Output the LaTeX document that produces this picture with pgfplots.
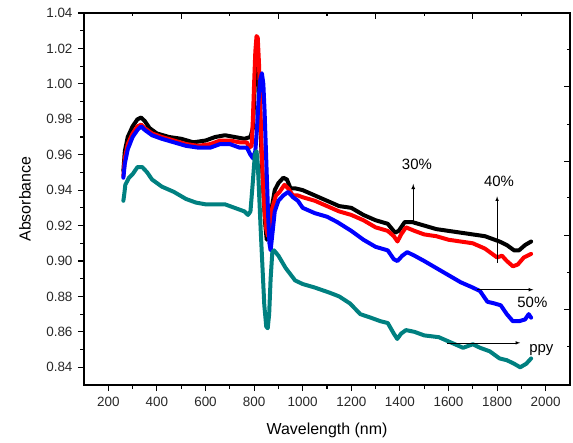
\documentclass[border=0pt]{standalone}
\usepackage{fontspec}
\setmainfont{Liberation Sans}
\usepackage{pgfplots}
\pgfplotsset{compat=1.18}
\definecolor{tealc}{RGB}{0,128,128}
\definecolor{ticklab}{RGB}{40,40,40}
\begin{document}
\begin{tikzpicture}
\useasboundingbox (-84bp,-58bp) rectangle (489bp,385bp);
\pgfplotsset{myax/.style={width=486bp,height=372bp,scale only axis,
  xmin=100,xmax=2100,ymin=0.83,ymax=1.04,
  axis line style={line width=1.4bp},
  every tick/.style={black,line width=1.1bp},
  major tick length=6bp, minor tick length=3.5bp,
  /pgf/number format/assume math mode=true,
  /pgf/number format/1000 sep={}}}
\begin{axis}[myax, at={(0,0)}, anchor=south west,
  xtick={200,400,...,2000},
  ytick={0.84,0.86,0.88,0.90,0.92,0.94,0.96,0.98,1.00,1.02,1.04},
  minor x tick num=1, minor y tick num=1,
  xtick pos=bottom, ytick pos=left, tick align=outside,
  ticklabel style={font=\fontsize{13.5}{15}\selectfont, text=ticklab},
  yticklabel style={xshift=-2bp, /pgf/number format/fixed, /pgf/number format/fixed zerofill, /pgf/number format/precision=2},
  xticklabel style={yshift=-3bp},
  xlabel={Wavelength (nm)}, ylabel={Absorbance},
  xlabel style={font=\fontsize{16}{18}\selectfont, at={(axis description cs:0.5,0)}, anchor=center, yshift=-45bp},
  ylabel style={font=\fontsize{16}{18}\selectfont, at={(axis description cs:-0.1214,0.5)}, anchor=center},
  every axis plot/.append style={line width=4bp, line join=round, line cap=round, mark=none},
  clip=false]
% 30% (black)
\addplot[black] coordinates {
(262,0.951) (268,0.962) (280,0.970) (300,0.976) (320,0.980) (335,0.981) (350,0.979) (370,0.975) (400,0.972) (450,0.970) (500,0.969) (550,0.967) (600,0.968) (640,0.970) (680,0.971) (720,0.970) (760,0.969) (785,0.970) (795,0.975) (800,0.990) (805,1.006) (810,1.016) (815,1.014) (820,1.000) (825,0.982) (830,0.962) (838,0.940) (845,0.922) (852,0.912) (860,0.915) (870,0.928) (885,0.940) (900,0.944) (920,0.947) (935,0.946) (950,0.941) (970,0.941) (1000,0.940) (1050,0.937) (1100,0.934) (1150,0.931) (1200,0.930) (1250,0.926) (1300,0.923) (1350,0.921) (1380,0.916) (1395,0.917) (1420,0.922) (1450,0.922) (1500,0.920) (1550,0.918) (1600,0.917) (1650,0.916) (1700,0.915) (1750,0.914) (1790,0.912) (1810,0.911) (1840,0.909) (1870,0.906) (1890,0.906) (1915,0.909) (1940,0.911)};
% 40% (red)
\addplot[red] coordinates {
(262,0.948) (268,0.958) (280,0.966) (300,0.972) (320,0.976) (335,0.977) (350,0.975) (380,0.972) (420,0.970) (470,0.968) (520,0.966) (570,0.965) (620,0.966) (660,0.968) (700,0.968) (740,0.967) (770,0.967) (780,0.964) (790,0.965) (795,0.980) (800,1.000) (805,1.018) (810,1.027) (815,1.026) (820,1.012) (825,0.990) (830,0.968) (836,0.945) (843,0.928) (850,0.918) (857,0.914) (865,0.918) (875,0.930) (890,0.937) (905,0.939) (925,0.943) (940,0.941) (960,0.937) (980,0.937) (1000,0.936) (1050,0.934) (1100,0.931) (1150,0.928) (1200,0.926) (1250,0.923) (1300,0.919) (1350,0.917) (1375,0.914) (1390,0.911) (1405,0.915) (1425,0.919) (1460,0.917) (1500,0.915) (1550,0.914) (1600,0.912) (1650,0.911) (1700,0.910) (1750,0.907) (1780,0.904) (1800,0.902) (1820,0.903) (1840,0.900) (1865,0.897) (1885,0.898) (1910,0.902) (1940,0.904)};
% 50% (blue)
\addplot[blue] coordinates {
(262,0.947) (268,0.955) (280,0.963) (300,0.970) (320,0.974) (335,0.976) (350,0.974) (380,0.971) (420,0.969) (470,0.967) (520,0.965) (570,0.964) (620,0.964) (660,0.966) (700,0.966) (740,0.964) (770,0.964) (785,0.960) (795,0.958) (805,0.962) (812,0.975) (818,0.990) (825,1.002) (832,1.006) (838,1.000) (843,0.985) (848,0.965) (853,0.945) (858,0.925) (863,0.910) (868,0.906) (875,0.915) (885,0.928) (900,0.934) (920,0.937) (940,0.939) (960,0.936) (980,0.934) (1000,0.930) (1050,0.927) (1100,0.925) (1142,0.922) (1200,0.917) (1250,0.912) (1300,0.908) (1350,0.906) (1375,0.901) (1390,0.900) (1410,0.903) (1430,0.905) (1460,0.903) (1500,0.900) (1550,0.896) (1600,0.892) (1650,0.888) (1700,0.885) (1730,0.883) (1760,0.877) (1790,0.876) (1815,0.875) (1840,0.870) (1865,0.866) (1890,0.866) (1915,0.867) (1930,0.870) (1940,0.868)};
% ppy (teal)
\addplot[tealc] coordinates {
(262,0.934) (266,0.938) (270,0.943) (285,0.947) (300,0.949) (320,0.953) (340,0.953) (360,0.950) (380,0.946) (420,0.942) (470,0.939) (520,0.935) (560,0.933) (600,0.932) (640,0.932) (680,0.932) (720,0.930) (760,0.928) (775,0.926) (785,0.928) (795,0.945) (803,0.960) (810,0.962) (815,0.955) (820,0.940) (828,0.915) (835,0.895) (842,0.875) (850,0.863) (856,0.862) (862,0.870) (868,0.890) (875,0.905) (882,0.906) (900,0.903) (930,0.896) (969,0.889) (1000,0.887) (1050,0.885) (1113,0.882) (1150,0.880) (1195,0.876) (1237,0.870) (1280,0.868) (1320,0.866) (1350,0.865) (1375,0.859) (1389,0.856) (1405,0.859) (1425,0.861) (1460,0.860) (1500,0.858) (1560,0.857) (1610,0.854) (1660,0.851) (1700,0.853) (1730,0.851) (1770,0.849) (1810,0.845) (1840,0.844) (1870,0.842) (1895,0.840) (1920,0.842) (1940,0.845)};
% annotations
\draw[-latex, line width=0.8bp] (axis cs:1455,0.9222) -- (axis cs:1455,0.9435);
\node[font=\fontsize{15}{17}\selectfont] at (axis cs:1470,0.9545) {30\%};
\draw[-latex, line width=0.6bp] (axis cs:1800,0.899) -- (axis cs:1800,0.9365);
\node[font=\fontsize{15}{17}\selectfont] at (axis cs:1808,0.9450) {40\%};
\draw[-latex, line width=0.6bp] (axis cs:1719,0.8838) -- (axis cs:1949,0.8838);
\node[font=\fontsize{15}{17}\selectfont] at (axis cs:1945,0.8764) {50\%};
\draw[-latex, line width=0.6bp] (axis cs:1595,0.8538) -- (axis cs:1895,0.8538);
\node[font=\fontsize{15}{17}\selectfont] at (axis cs:1982,0.8500) {ppy};
\end{axis}
\begin{axis}[myax, at={(0,0)}, anchor=south west,
  xtick pos=top, ytick pos=right, tick align=inside,
  xtick={500,900,1300,1700}, minor xtick={300,700,1100,1500,1900},
  ytick={0.99865,0.95637,0.91432,0.87244}, minor ytick={1.01959,0.97714,0.93566,0.89355,0.85151},
  xticklabels={}, yticklabels={}]
\end{axis}
\end{tikzpicture}
\end{document}
